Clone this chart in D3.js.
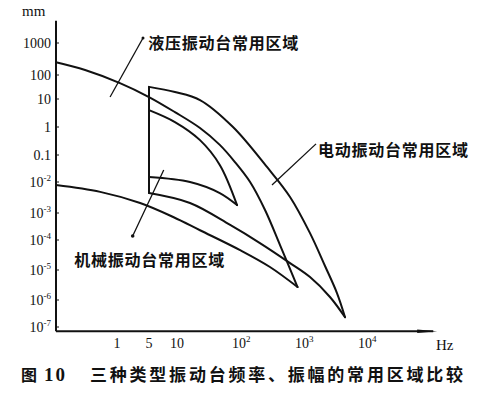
<!DOCTYPE html>
<html><head><meta charset="utf-8">
<script src="https://cdn.jsdelivr.net/npm/d3@7"></script>
<style>body{margin:0;background:#fff}</style>
</head><body>
<svg id="c" width="503" height="394"></svg>
<script>
// ---------- data (Hz, mm) ----------
const yTickValues = [1000, 100, 10, 1, 0.1, 0.01, 1e-3, 1e-4, 1e-5, 1e-6, 1e-7];
const yTickBase   = ["1000", "100", "10", "1", "0.1", "10", "10", "10", "10", "10", "10"];
const yTickExp    = ["", "", "", "", "", "-2", "-3", "-4", "-5", "-6", "-7"];
const xTickValues = [1, 5, 10, 100, 1000, 10000];
const xTickBase   = ["1", "5", "10", "10", "10", "10"];
const xTickExp    = ["", "", "", "2", "3", "4"];

const hydraulicUpper = [[0.1,250],[0.3,143],[1.16,46],[5,12.1],[9.5,3.4],[23.5,0.92],[49,0.23],[86,0.055],[150,0.01],[259,1.25e-3],[448,6.8e-5],[850,2.7e-6]];
const hydraulicLower = [[0.1,8.0e-3],[0.53,4.8e-3],[3.2,2.1e-3],[9.1,7.1e-4],[23.5,2.3e-4],[104,4.6e-5],[310,1.26e-5],[850,2.7e-6]];
const electroUpper   = [[5,32],[9.5,19.6],[23.5,9.2],[80,1.0],[278,0.036],[646,3.3e-3],[1340,1.8e-4],[2320,1.36e-5],[3590,1.7e-6],[4820,2.3e-7]];
const electroLower   = [[5,4.4e-3],[16.2,2.1e-3],[72,3.6e-4],[215,7.9e-5],[646,1.7e-5],[1340,5.8e-6],[2780,1.26e-6],[4820,2.3e-7]];
const mechUpper      = [[5,4.0],[9.5,1.5],[23.5,0.34],[49,0.043],[93,1.8e-3]];
const mechLower      = [[5,0.0153],[16.2,0.01],[49,4.4e-3],[93,1.8e-3]];

const regionNames  = ["液压振动台常用区域", "电动振动台常用区域", "机械振动台常用区域"];
const labelAnchors = [[4.8,1000],[1800,0.15],[0.2,2.2e-5]];
const leaderLines  = [[[3.7,1430],[0.77,12.1]], [[1670,0.25],[334,8.0e-3]], [[7.2,0.028],[2.2,1.4e-4]]];

const yUnit = "mm", xUnit = "Hz";
const captionNo = "图", captionNum = "10", captionText = "三种类型振动台频率、振幅的常用区域比较";

// ---------- layout ----------
const svg = d3.select("#c");
const x = d3.scaleLog()
  .domain([0.1, 1, 5, 10, 100, 1000, 10000])
  .range([56, 117, 149, 177, 239, 302, 365]);
const y = d3.scaleLog()
  .domain([1000, 100, 10, 1, 0.1, 0.01, 1e-3, 1e-4, 1e-5, 1e-6, 1e-7])
  .range([43, 75, 99, 127, 155, 182, 213, 240, 270, 300, 327]);

const ink = "#111";
const serif = "'Liberation Serif','DejaVu Serif',serif";
const cjk = "'Noto Sans CJK SC','Noto Sans CJK JP',sans-serif";

const x0 = x(0.1), yBottom = y(7e-8), yTop = y(5000), xEnd = x(1.4e5);

// axes
svg.append("line").attr("x1", x0).attr("x2", x0).attr("y1", yTop).attr("y2", yBottom)
  .attr("stroke", ink).attr("stroke-width", 2);
svg.append("line").attr("x1", x0).attr("x2", xEnd - 4).attr("y1", yBottom).attr("y2", yBottom)
  .attr("stroke", ink).attr("stroke-width", 2);
svg.append("path")
  .attr("d", `M${xEnd-20},${yBottom-1.8} L${xEnd},${yBottom} L${xEnd-20},${yBottom+1.8} Z`)
  .attr("fill", ink);

// y ticks
const yt = svg.append("g");
yTickValues.forEach((v, i) => {
  yt.append("line").attr("x1", x0).attr("x2", x0 + 3).attr("y1", y(v)).attr("y2", y(v))
    .attr("stroke", ink).attr("stroke-width", 1);
  const t = yt.append("text").attr("x", x0 - 5).attr("y", y(v) + 5)
    .attr("text-anchor", "end").attr("font-family", serif).attr("font-size", 14).attr("fill", ink);
  t.append("tspan").text(yTickBase[i]);
  if (yTickExp[i]) t.append("tspan").attr("dy", -6).attr("font-size", 9).text(yTickExp[i]);
});

// x ticks
const xt = svg.append("g");
xTickValues.forEach((v, i) => {
  const t = xt.append("text").attr("x", x(v) - (xTickExp[i] ? 7 : 0)).attr("y", yBottom + 17)
    .attr("text-anchor", xTickExp[i] ? "start" : "middle")
    .attr("font-family", serif).attr("font-size", 14).attr("fill", ink);
  t.append("tspan").text(xTickBase[i]);
  if (xTickExp[i]) t.append("tspan").attr("dy", -6).attr("font-size", 9).text(xTickExp[i]);
});

// units
svg.append("text").attr("x", 22).attr("y", 16).attr("font-family", serif)
  .attr("font-size", 15).attr("fill", ink).text(yUnit);
svg.append("text").attr("x", 436).attr("y", yBottom + 19).attr("font-family", serif)
  .attr("font-size", 15).attr("fill", ink).text(xUnit);

// curves
const line = d3.line().x(d => x(d[0])).y(d => y(d[1])).curve(d3.curveCatmullRom.alpha(0.5));
const g = svg.append("g").attr("fill", "none").attr("stroke", ink)
  .attr("stroke-width", 2).attr("stroke-linejoin", "miter").attr("stroke-linecap", "round");
[hydraulicUpper, hydraulicLower, electroUpper, electroLower, mechUpper, mechLower].forEach(s => {
  g.append("path").attr("d", line(s));
});
// 5 Hz boundary of the electrodynamic / mechanical regions
g.append("path").attr("d", d3.line().x(d => x(d[0])).y(d => y(d[1]))([electroUpper[0], electroLower[0]]));

// leaders
const straight = d3.line().x(d => x(d[0])).y(d => y(d[1]));
leaderLines.forEach(l => {
  svg.append("path").attr("d", straight(l)).attr("fill", "none")
    .attr("stroke", ink).attr("stroke-width", 1.3);
});
svg.append("circle").attr("cx", x(leaderLines[2][1][0])).attr("cy", y(leaderLines[2][1][1]))
  .attr("r", 1.8).attr("fill", ink);
svg.append("circle").attr("cx", x(leaderLines[0][0][0])).attr("cy", y(leaderLines[0][0][1]))
  .attr("r", 1.5).attr("fill", ink);

// region labels
regionNames.forEach((n, i) => {
  svg.append("text").attr("x", x(labelAnchors[i][0])).attr("y", y(labelAnchors[i][1]) + 6)
    .attr("font-family", cjk).attr("font-weight", 700).attr("font-size", 16)
    .attr("textLength", 150).attr("lengthAdjust", "spacing").attr("fill", ink).text(n);
});

// caption
const capY = 381;
svg.append("text").attr("x", 21).attr("y", capY).attr("font-family", cjk).attr("font-weight", 700)
  .attr("font-size", 16).attr("fill", ink).text(captionNo);
svg.append("text").attr("x", 44).attr("y", capY).attr("font-family", serif).attr("font-weight", 700)
  .attr("font-size", 19).attr("letter-spacing", 2).attr("fill", ink).text(captionNum);
svg.append("text").attr("x", 90).attr("y", capY).attr("font-family", cjk).attr("font-weight", 700)
  .attr("font-size", 17).attr("textLength", 373).attr("lengthAdjust", "spacing").attr("fill", ink).text(captionText);
</script>
</body></html>
